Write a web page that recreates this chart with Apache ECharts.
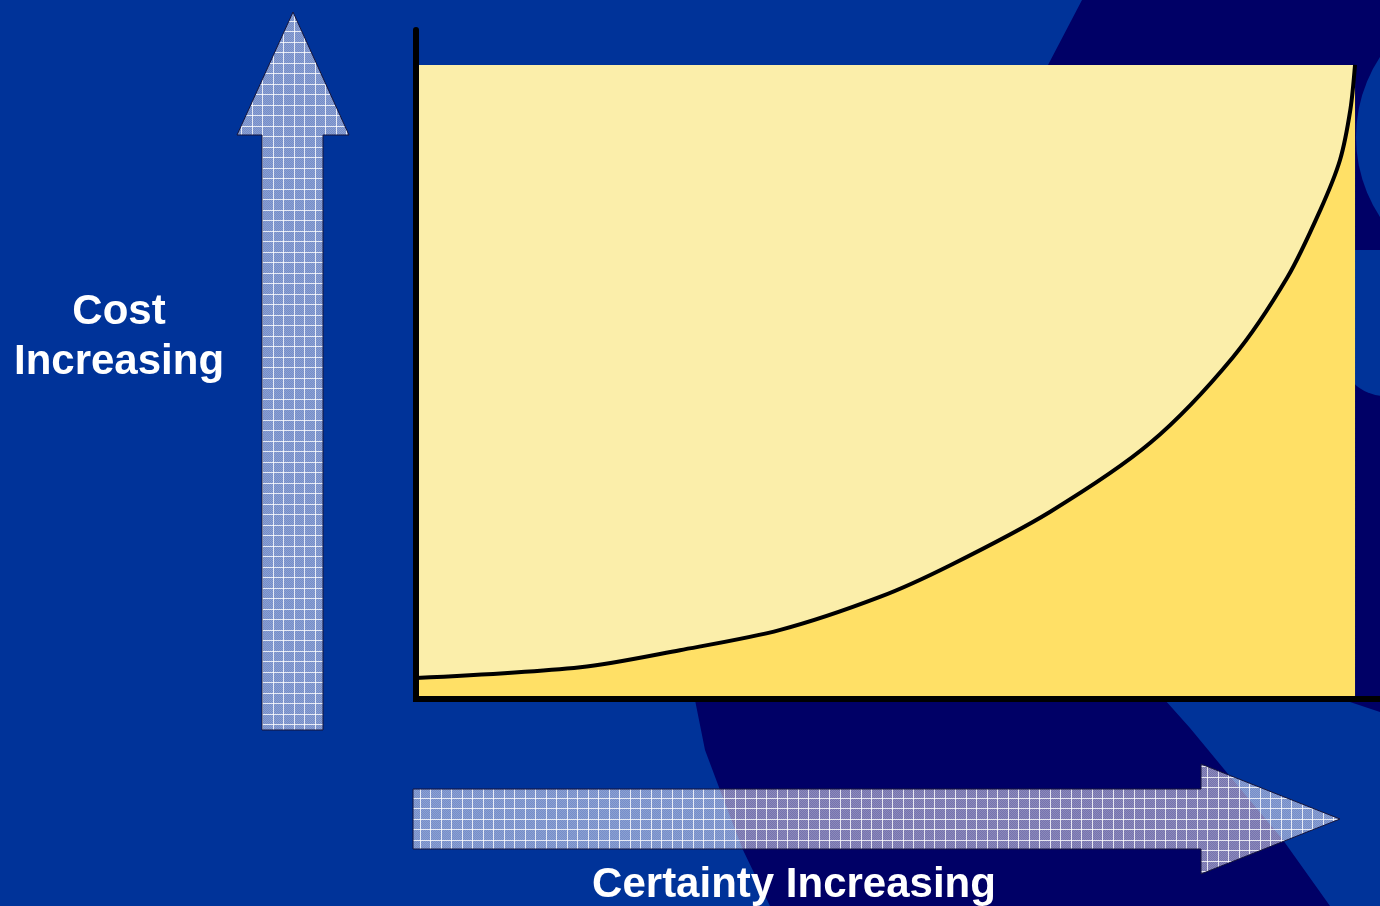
<!DOCTYPE html>
<html>
<head>
<meta charset="utf-8">
<script src="https://cdn.jsdelivr.net/npm/echarts/dist/echarts.min.js"></script>
<style>
html, body { margin: 0; padding: 0; background: #003399; }
#main { width: 1380px; height: 906px; }
</style>
</head>
<body>
<div id="main"></div>
<script>
// curve (x = certainty, y = cost)
const certainty = [0, 17.5, 28.1, 38.8, 49.4, 56.9, 67.5, 78.2, 87.0, 92.8, 96.3, 98.4, 99.5, 100];
const cost = [3.3, 5.0, 7.7, 10.9, 16.1, 21.1, 29.5, 40.4, 53.9, 66.5, 77.1, 85.0, 92.9, 100];
// the pale box behind the curve
const frameX = [0, 100];
const frameY = [100, 100];
const yLabel = ['Cost', 'Increasing'];
const xLabel = 'Certainty Increasing';

// grid texture for the arrows
function makeTile() {
    let c = document.createElement('canvas');
    c.width = 21;
    c.height = 21;
    let ctx = c.getContext('2d');
    for (let i = 0; i < 21; i++) {
        for (let j = 0; j < 21; j++) {
            ctx.fillStyle = (i + j) % 2 ? 'rgba(245,240,255,0.48)' : 'rgba(255,252,255,0.55)';
            ctx.fillRect(i, j, 1, 1);
        }
    }
    ctx.fillStyle = 'rgba(255,255,255,0.8)';
    ctx.fillRect(0, 0, 21, 1);
    ctx.fillRect(0, 10, 21, 1);
    ctx.fillRect(0, 0, 1, 21);
    ctx.fillRect(10, 0, 1, 21);
    return c;
}
const tile = makeTile();
const arrowFill = { image: tile, repeat: 'repeat' };
const font = 'bold 42px "Liberation Sans", Arial, sans-serif';

let myChart = echarts.init(document.getElementById('main'));
myChart.setOption({
    backgroundColor: '#003399',
    animation: false,
    grid: { left: 416, right: 0, top: 30, bottom: 207 },
    xAxis: {
        type: 'value', min: 0, max: 102.66, z: 10,
        axisLine: { show: true, lineStyle: { color: '#000', width: 6, cap: 'square' } },
        axisTick: { show: false }, axisLabel: { show: false }, splitLine: { show: false }
    },
    yAxis: {
        type: 'value', min: 0, max: 105.5, z: 10,
        axisLine: { show: true, lineStyle: { color: '#000', width: 6 } },
        axisTick: { show: false }, axisLabel: { show: false }, splitLine: { show: false }
    },
    graphic: [
        // background decoration
        {
            type: 'polygon', z: -10, silent: true,
            shape: { points: [[1082, 0], [1048, 65], [960, 190], [860, 330], [780, 460], [725, 580], [700, 660], [695, 700], [705, 750], [720, 790], [743, 850], [770, 906], [1330, 906], [1283, 840], [1233, 780], [1190, 728], [1165, 700], [1160, 690], [1350, 702], [1380, 712], [1380, 0]] },
            style: { fill: '#000066' }
        },
        { type: 'circle', z: -9, silent: true, shape: { cx: 1501, cy: 137, r: 145 }, style: { fill: '#003399' } },
        { type: 'rect', z: -9, silent: true, shape: { x: 1340, y: 250, width: 80, height: 146, r: [0, 0, 0, 45] }, style: { fill: '#003399' } },
        // arrows
        {
            type: 'polygon', z: 5,
            shape: { points: [[293, 12], [349, 135], [323, 135], [323, 730], [262, 730], [262, 135], [237, 135]] },
            style: { fill: arrowFill, stroke: '#14143c', lineWidth: 1 }
        },
        {
            type: 'polygon', z: 5,
            shape: { points: [[413, 789], [1201, 789], [1201, 764], [1340, 819], [1201, 874], [1201, 849], [413, 849]] },
            style: { fill: arrowFill, stroke: '#14143c', lineWidth: 1 }
        },
        // labels
        {
            type: 'text', z: 6,
            style: { text: yLabel[0], x: 119, y: 312, fill: '#fff', font: font, textAlign: 'center', textVerticalAlign: 'middle' }
        },
        {
            type: 'text', z: 6,
            style: { text: yLabel[1], x: 119, y: 362, fill: '#fff', font: font, textAlign: 'center', textVerticalAlign: 'middle' }
        },
        {
            type: 'text', z: 6,
            style: { text: xLabel, x: 794, y: 885, fill: '#fff', font: font, textAlign: 'center', textVerticalAlign: 'middle' }
        }
    ],
    series: [
        {
            type: 'line', name: 'frame', z: 1,
            data: frameX.map((x, i) => [x, frameY[i]]),
            symbol: 'none', lineStyle: { width: 0 },
            areaStyle: { color: '#FBEEAA', opacity: 1 }
        },
        {
            type: 'line', name: 'cost', z: 2,
            data: certainty.map((x, i) => [x, cost[i]]),
            symbol: 'none', smooth: 0.3,
            lineStyle: { color: '#000', width: 4 },
            areaStyle: { color: '#FFE066', opacity: 1 }
        }
    ]
});
</script>
</body>
</html>
